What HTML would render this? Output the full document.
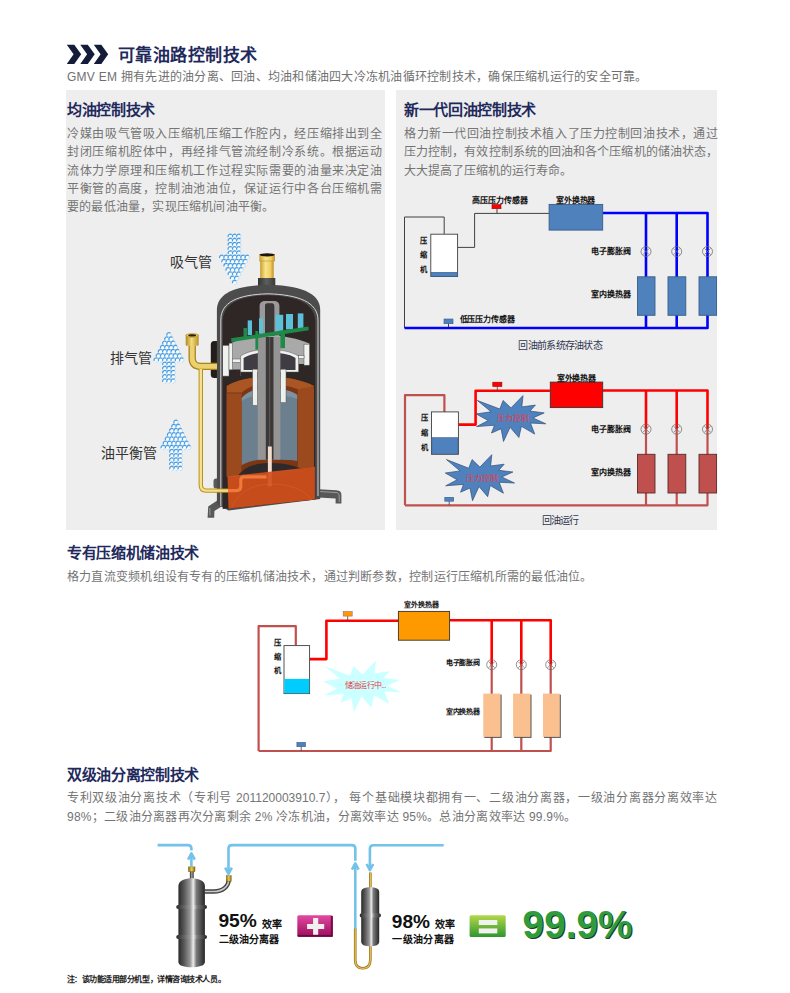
<!DOCTYPE html>
<html lang="zh-CN"><head><meta charset="utf-8">
<style>
html,body{margin:0;padding:0;background:#fff;}
body{width:790px;height:993px;position:relative;overflow:hidden;font-family:"Liberation Sans",sans-serif;}
.a{position:absolute;white-space:nowrap;}
.h2{font-size:15px;letter-spacing:-0.32px;font-weight:bold;color:#1f2a5c;line-height:18px;}
.p{font-size:12px;color:#6e6e6e;line-height:18.25px;letter-spacing:0.56px;}
.p2{font-size:12px;color:#747474;line-height:19px;letter-spacing:0.22px;}
.jp{position:absolute;font-size:12px;color:#747474;line-height:18.25px;}
.jp div{white-space:nowrap;}
.jp .j{text-align:justify;text-align-last:justify;white-space:normal;}
.panel{position:absolute;background:#eeeeee;}
svg{position:absolute;left:0;top:0;overflow:visible;}
.lb{font-size:8px;font-weight:bold;color:#000;}
</style></head><body>

<!-- header -->
<svg width="790" height="993" style="pointer-events:none">
  <g fill="#141c3a">
    <path d="M66.8 44.7 L74.3 44.7 L81.2 54.3 L74.3 63.9 L66.8 63.9 L73.6 54.3 Z"/>
    <path d="M80.3 44.7 L87.8 44.7 L94.7 54.3 L87.8 63.9 L80.3 63.9 L87.1 54.3 Z"/>
    <path d="M93.8 44.7 L101.3 44.7 L108.2 54.3 L101.3 63.9 L93.8 63.9 L100.6 54.3 Z"/>
  </g>
</svg>
<div class="a" style="left:117.5px;top:44.5px;font-size:17px;letter-spacing:0.5px;font-weight:bold;color:#1f2a5c;line-height:22px;">可靠油路控制技术</div>
<div class="a" style="left:67px;top:69px;font-size:12px;color:#707070;line-height:16px;letter-spacing:0.25px;">GMV EM 拥有先进的油分离、回油、均油和储油四大冷冻机油循环控制技术，确保压缩机运行的安全可靠。</div>

<div class="panel" style="left:66px;top:90px;width:319px;height:440px;"></div>
<div class="panel" style="left:396px;top:90px;width:321px;height:440px;"></div>

<div class="a h2" style="left:67px;top:100.5px;">均油控制技术</div>
<div class="jp" style="left:67px;top:125px;width:315px;">
<div class="j">冷媒由吸气管吸入压缩机压缩工作腔内，经压缩排出到全</div>
<div class="j">封闭压缩机腔体中，再经排气管流经制冷系统。根据运动</div>
<div class="j">流体力学原理和压缩机工作过程实际需要的油量来决定油</div>
<div class="j">平衡管的高度，控制油池油位，保证运行中各台压缩机需</div>
<div style="letter-spacing:0.2px">要的最低油量，实现压缩机间油平衡。</div>
</div>

<div class="a h2" style="left:404px;top:100.5px;">新一代回油控制技术</div>
<div class="jp" style="left:404px;top:125px;width:314px;">
<div class="j">格力新一代回油控制技术植入了压力控制回油技术，通过</div>
<div class="j">压力控制，有效控制系统的回油和各个压缩机的储油状态，</div>
<div>大大提高了压缩机的运行寿命。</div>
</div>

<div class="a h2" style="left:67px;top:544px;">专有压缩机储油技术</div>
<div class="a p2" style="left:67px;top:568px;">格力直流变频机组设有专有的压缩机储油技术，通过判断参数，控制运行压缩机所需的最低油位。</div>

<div class="a h2" style="left:67px;top:766px;">双级油分离控制技术</div>
<div class="jp" style="left:67px;top:789px;width:650px;line-height:19px;">
<div class="j">专利双级油分离技术（专利号 201120003910.7）， 每个基础模块都拥有一、二级油分离器，一级油分离器分离效率达</div>
<div style="letter-spacing:0.26px">98%；二级油分离器再次分离剩余 2% 冷冻机油，分离效率达 95%。总油分离效率达 99.9%。</div>
</div>

<!-- Compressor illustration -->
<svg width="790" height="993">
 <defs>
  <g id="bb"><circle r="2.15" fill="#f6fbff"/><path d="M-2,0.8 A2.15,2.15 0 0 1 1.5,-1.55" fill="none" stroke="#4a9de0" stroke-width="1.25"/><path d="M1.5,-1.55 A2.15,2.15 0 0 1 -0.4,2.1" fill="none" stroke="#a8d4f2" stroke-width="0.7"/></g>
  <linearGradient id="brassV" x1="0" y1="0" x2="1" y2="0">
   <stop offset="0" stop-color="#b08a1e"/><stop offset="0.45" stop-color="#f3dc7e"/><stop offset="1" stop-color="#b89228"/>
  </linearGradient>
  <linearGradient id="brassV2" x1="0" y1="0" x2="1" y2="0"><stop offset="0" stop-color="#c8a030"/><stop offset="0.4" stop-color="#f8e48c"/><stop offset="0.75" stop-color="#f0d060"/><stop offset="1" stop-color="#c09028"/></linearGradient>
  <linearGradient id="capDark" x1="0" y1="0" x2="1" y2="0">
   <stop offset="0" stop-color="#333"/><stop offset="0.5" stop-color="#5e5e5e"/><stop offset="1" stop-color="#3a3a3a"/>
  </linearGradient>
  <clipPath id="shellClip"><path d="M222.7,512 V322 C222.7,304 238,296 268,295.3 C298,296 315.3,304 315.3,322 V502 Z"/></clipPath>
 </defs>
 <g>
  <!-- suction brass tube -->
  <rect x="260.1" y="258" width="13.6" height="22" fill="url(#brassV2)"/>
  <rect x="259.3" y="254" width="15.6" height="7" fill="url(#brassV2)"/>
  <path d="M259.3,261 H274.9" stroke="#c09030" stroke-width="0.6"/>
  <ellipse cx="267.1" cy="254.8" rx="7.6" ry="1.6" fill="#1e140a"/>
  <path d="M258,278 H275.3 V287.5 C275.3,289.5 272,290.3 266.6,290.3 C261.2,290.3 258,289.5 258,287.5 Z" fill="url(#capDark)"/>
  <!-- left bumps -->
  <rect x="210.8" y="341" width="9" height="37" rx="3.5" fill="#231d1b"/>
  <rect x="213.5" y="478.5" width="6" height="10" rx="2.5" fill="#5a5a5a"/>
  <!-- feet -->
  <path d="M218,500 L208.2,506.5 L207.6,517.8 L214.2,517.8 L214.4,511 L224,505 Z" fill="#585858"/>
  <path d="M209.8,508 L210,515.5" stroke="#b8b8b8" stroke-width="0.7"/>
  <path d="M314,489 L336.5,490.3 C340,490.6 341.4,492 341.4,495 V503.4 H335.6 V498.5 L318,497.6 Z" fill="#585858"/>
  <path d="M319,491.5 L336,492.5 C338.5,492.7 339.2,494 339.2,496 V502" fill="none" stroke="#b8b8b8" stroke-width="0.7"/>
  <!-- shell -->
  <path d="M216.9,504 V310 C216.9,292 238,285.5 268,284.8 C298,285.5 320.2,292 320.2,310 V499 L228.5,510.5 Z" fill="#4c4c4c"/>
  <path d="M220.8,506 V320 C220.8,302 238,294.6 268,293.8 C298,294.6 318,302 318,320 V496" fill="none" stroke="#d4d4d4" stroke-width="1"/>
  <!-- interior dark -->
  <path d="M222.7,509 V322 C222.7,304 238,296 268,295.3 C298,296 315.3,304 315.3,322 V499.6 Z" fill="#2e2725"/>
  <g clip-path="url(#shellClip)">
   <!-- shaft top U -->
   <path d="M259.6,345 V306 C259.6,302.5 262,300.9 265,300.9 H274 C277,300.9 279.4,302.5 279.4,306 V345 H274.2 V306.5 C274.2,304.5 273.5,303.6 272,303.6 H267.3 C265.8,303.6 265.1,304.5 265.1,306.5 V345 Z" fill="#9a9a9a"/>
   <path d="M265.1,345 V306.5 C265.1,304.5 265.8,303.6 267.3,303.6 H272 C273.5,303.6 274.2,304.5 274.2,306.5 V345 Z" fill="#3c3838"/>
   <!-- cyan blocks -->
   <g fill="#5cc0d8">
    <rect x="247.7" y="320.4" width="4.3" height="14.6"/>
    <rect x="259" y="318.3" width="4" height="15.3"/>
    <rect x="275.6" y="314.8" width="7.6" height="16"/>
    <rect x="286" y="314" width="7" height="15.4"/>
    <rect x="297.8" y="313.4" width="5.6" height="14.6"/>
   </g>
   <!-- gray hat -->
   <path d="M229,344 C240,338.5 254,335.5 268,335.5 C284,335.5 298,338.5 309.4,343.5 V364 H298.5 V372 H240.6 V369.5 H229 Z" fill="#a9a9a9"/>
   <path d="M240.6,376 V356 C248,351 258,349.6 268,349.6 C280,349.6 290,351 298.5,356 V372 H240.6 Z" fill="#f0f2f0" stroke="#555" stroke-width="0.5"/>
   <path d="M243.6,376 V358 C250,354 258,352.6 268,352.6 C280,352.6 289,354 295.5,358 V370 H243.6 Z" fill="#3f3c44"/>
   <g fill="#f0f2f0" stroke="#555" stroke-width="0.5">
    <rect x="222.7" y="345.4" width="6.3" height="30.7"/>
    <rect x="229" y="343.2" width="3.4" height="26.6"/>
    <rect x="304" y="344.2" width="5.4" height="21"/>
    <rect x="232.4" y="359" width="8.2" height="3.4"/>
    <rect x="298.5" y="355.6" width="5.5" height="3"/>
   </g>
   <!-- motor stator -->
   <path d="M226.8,476 V386 C236,380 252,376.8 268,376.8 C286,376.8 302,380 313.9,386 V467 Z" fill="#9b4a1e"/>
   <path d="M226.8,386 C236,380 252,376.8 268,376.8 C286,376.8 302,380 313.9,386 L297.9,389.4 C290,386 280,384.5 268,384.5 C256,384.5 248,386.5 241.5,393 L226.8,392.9 Z" fill="#aa5524"/>
   <path d="M241.5,476 V393 C248,386.5 256,384.5 268,384.5 C280,384.5 290,386 297.9,389.4 V467" fill="#7c3614"/>
   <rect x="226.6" y="392.9" width="14.9" height="84" fill="#9b4a1e"/>
   <path d="M226.8,392.9 H241.5" stroke="#6a2e10" stroke-width="0.6"/>
   <rect x="297.9" y="389.4" width="16" height="78" fill="#9b4a1e"/>
   <!-- rotor -->
   <path d="M241.8,465.3 V398 C248,391 256,388.7 268,388.7 C282,388.7 292,390.5 297.2,395 V461 Z" fill="#6b7f8f"/>
   <path d="M241.8,398 C248,391 256,388.7 268,388.7 C282,388.7 292,390.5 297.2,395 L297.2,399 C290,396 280,395 268,395 C256,395 248,396.5 241.8,401 Z" fill="#7f92a0"/>
   <!-- lower dark dome under motor -->
   <path d="M241.5,476 V465.3 C250,460.5 258,459.5 268,459.5 C282,459.5 292,460 297.9,461 V467 Z" fill="#7c3614"/>
   <path d="M236,478 C244,466 256,463 270,463 C286,463 298,466 306,472 Z" fill="#2e2a2c"/>
   <!-- shaft -->
   <rect x="257.8" y="337" width="22.6" height="122.7" fill="#959595"/>
   <rect x="265.8" y="337" width="7.7" height="122.7" fill="#3c3838"/>
   <rect x="269" y="337" width="1.2" height="122.7" fill="#5a5656"/>
   <!-- green bar + verticals -->
   <g fill="#1f8a48">
    <rect x="243.5" y="328" width="3.5" height="9"/>
    <rect x="255.4" y="331" width="2.8" height="18.6"/>
    <rect x="280.4" y="334" width="4.6" height="14.2"/>
    <path d="M231,338.3 L308.3,326.4 L308.8,330.2 L231.5,342.1 Z"/>
   </g>
   <!-- white bearing verticals -->
   <g fill="#eef0ee" stroke="#555" stroke-width="0.5">
    <rect x="252.6" y="369.2" width="4.9" height="36.2"/>
    <rect x="280.5" y="369.2" width="5.5" height="33.4"/>
   </g>
   <!-- pickup rod -->
   <rect x="267.9" y="446.5" width="3.9" height="40" fill="#f2dccc"/>
   <!-- oil -->
   <path d="M227.5,476.3 L314.9,466.8 L314.9,499.6 L228.5,508.5 Z" fill="#d2501c" fill-opacity="0.93"/>
   <path d="M232,506 C240,490 256,484 272,484 C290,484 304,490 312,500" fill="none" stroke="#e86a34" stroke-opacity="0.5" stroke-width="0.8"/>
   <!-- oil tube inside (orange) -->
   <path d="M227,490.6 H236.5 C239.5,490.6 240.8,489 240.8,486 V480 C240.8,477.8 242,476.8 244,476.8 H266.5" fill="none" stroke="#f07838" stroke-width="3.2"/>
  </g>
  <!-- discharge elbow brass -->
  <path d="M192.2,345.5 V358 C192.2,364 195.5,366.4 201.5,366.4 H217" fill="none" stroke="#a8841c" stroke-width="7.4"/>
  <path d="M192.2,345.5 V358 C192.2,364 195.5,366.4 201.5,366.4 H217" fill="none" stroke="#ecd170" stroke-width="4.8"/>
  <rect x="185.7" y="334.2" width="13" height="11.6" rx="1" fill="url(#brassV)"/>
  <ellipse cx="192.2" cy="335.4" rx="6.2" ry="1.9" fill="#e8c860" stroke="#a8821a" stroke-width="0.5"/>
  <ellipse cx="192.2" cy="335.4" rx="3.9" ry="1.1" fill="#2a1e0a"/>
  <!-- oil balance tube brass -->
  <path d="M200.8,369 V485 C200.8,488.8 202.6,490.6 206,490.6 H228" fill="none" stroke="#b8921e" stroke-width="4.4"/>
  <path d="M200.8,369 V485 C200.8,488.8 202.6,490.6 206,490.6 H228" fill="none" stroke="#f6e08e" stroke-width="2.4"/>
  <!-- bubbles -->
  <g>
<use href="#bb" x="230.3" y="236.3"/>
<use href="#bb" x="234.6" y="236.3"/>
<use href="#bb" x="238.8" y="236.3"/>
<use href="#bb" x="230.3" y="240.5"/>
<use href="#bb" x="234.6" y="240.5"/>
<use href="#bb" x="238.8" y="240.5"/>
<use href="#bb" x="230.3" y="244.7"/>
<use href="#bb" x="234.6" y="244.7"/>
<use href="#bb" x="238.8" y="244.7"/>
<use href="#bb" x="230.3" y="248.9"/>
<use href="#bb" x="234.6" y="248.9"/>
<use href="#bb" x="238.8" y="248.9"/>
<use href="#bb" x="230.3" y="253.1"/>
<use href="#bb" x="234.6" y="253.1"/>
<use href="#bb" x="238.8" y="253.1"/>
<use href="#bb" x="221.8" y="257.3"/>
<use href="#bb" x="226.1" y="257.3"/>
<use href="#bb" x="230.3" y="257.3"/>
<use href="#bb" x="234.6" y="257.3"/>
<use href="#bb" x="238.8" y="257.3"/>
<use href="#bb" x="243.1" y="257.3"/>
<use href="#bb" x="247.3" y="257.3"/>
<use href="#bb" x="224.0" y="261.5"/>
<use href="#bb" x="228.2" y="261.5"/>
<use href="#bb" x="232.5" y="261.5"/>
<use href="#bb" x="236.7" y="261.5"/>
<use href="#bb" x="241.0" y="261.5"/>
<use href="#bb" x="245.2" y="261.5"/>
<use href="#bb" x="226.1" y="265.7"/>
<use href="#bb" x="230.3" y="265.7"/>
<use href="#bb" x="234.6" y="265.7"/>
<use href="#bb" x="238.8" y="265.7"/>
<use href="#bb" x="243.1" y="265.7"/>
<use href="#bb" x="228.2" y="269.9"/>
<use href="#bb" x="232.5" y="269.9"/>
<use href="#bb" x="236.7" y="269.9"/>
<use href="#bb" x="241.0" y="269.9"/>
<use href="#bb" x="230.3" y="274.1"/>
<use href="#bb" x="234.6" y="274.1"/>
<use href="#bb" x="238.8" y="274.1"/>
<use href="#bb" x="232.5" y="278.3"/>
<use href="#bb" x="236.7" y="278.3"/>
<use href="#bb" x="234.6" y="282.5"/>
<use href="#bb" x="169.0" y="334.9"/>
<use href="#bb" x="166.9" y="339.1"/>
<use href="#bb" x="171.1" y="339.1"/>
<use href="#bb" x="164.8" y="343.3"/>
<use href="#bb" x="169.0" y="343.3"/>
<use href="#bb" x="173.2" y="343.3"/>
<use href="#bb" x="162.6" y="347.5"/>
<use href="#bb" x="166.9" y="347.5"/>
<use href="#bb" x="171.1" y="347.5"/>
<use href="#bb" x="175.4" y="347.5"/>
<use href="#bb" x="160.5" y="351.7"/>
<use href="#bb" x="164.8" y="351.7"/>
<use href="#bb" x="169.0" y="351.7"/>
<use href="#bb" x="173.2" y="351.7"/>
<use href="#bb" x="177.5" y="351.7"/>
<use href="#bb" x="158.4" y="355.9"/>
<use href="#bb" x="162.6" y="355.9"/>
<use href="#bb" x="166.9" y="355.9"/>
<use href="#bb" x="171.1" y="355.9"/>
<use href="#bb" x="175.4" y="355.9"/>
<use href="#bb" x="179.6" y="355.9"/>
<use href="#bb" x="156.2" y="360.1"/>
<use href="#bb" x="160.5" y="360.1"/>
<use href="#bb" x="164.8" y="360.1"/>
<use href="#bb" x="169.0" y="360.1"/>
<use href="#bb" x="173.2" y="360.1"/>
<use href="#bb" x="177.5" y="360.1"/>
<use href="#bb" x="181.8" y="360.1"/>
<use href="#bb" x="164.8" y="364.3"/>
<use href="#bb" x="169.0" y="364.3"/>
<use href="#bb" x="173.2" y="364.3"/>
<use href="#bb" x="164.8" y="368.5"/>
<use href="#bb" x="169.0" y="368.5"/>
<use href="#bb" x="173.2" y="368.5"/>
<use href="#bb" x="164.8" y="372.7"/>
<use href="#bb" x="169.0" y="372.7"/>
<use href="#bb" x="173.2" y="372.7"/>
<use href="#bb" x="164.8" y="376.9"/>
<use href="#bb" x="169.0" y="376.9"/>
<use href="#bb" x="173.2" y="376.9"/>
<use href="#bb" x="164.8" y="381.1"/>
<use href="#bb" x="169.0" y="381.1"/>
<use href="#bb" x="173.2" y="381.1"/>
<use href="#bb" x="176.0" y="422.3"/>
<use href="#bb" x="173.9" y="426.5"/>
<use href="#bb" x="178.1" y="426.5"/>
<use href="#bb" x="171.8" y="430.7"/>
<use href="#bb" x="176.0" y="430.7"/>
<use href="#bb" x="180.2" y="430.7"/>
<use href="#bb" x="169.6" y="434.9"/>
<use href="#bb" x="173.9" y="434.9"/>
<use href="#bb" x="178.1" y="434.9"/>
<use href="#bb" x="182.4" y="434.9"/>
<use href="#bb" x="167.5" y="439.1"/>
<use href="#bb" x="171.8" y="439.1"/>
<use href="#bb" x="176.0" y="439.1"/>
<use href="#bb" x="180.2" y="439.1"/>
<use href="#bb" x="184.5" y="439.1"/>
<use href="#bb" x="165.4" y="443.3"/>
<use href="#bb" x="169.6" y="443.3"/>
<use href="#bb" x="173.9" y="443.3"/>
<use href="#bb" x="178.1" y="443.3"/>
<use href="#bb" x="182.4" y="443.3"/>
<use href="#bb" x="186.6" y="443.3"/>
<use href="#bb" x="163.2" y="447.5"/>
<use href="#bb" x="167.5" y="447.5"/>
<use href="#bb" x="171.8" y="447.5"/>
<use href="#bb" x="176.0" y="447.5"/>
<use href="#bb" x="180.2" y="447.5"/>
<use href="#bb" x="184.5" y="447.5"/>
<use href="#bb" x="188.8" y="447.5"/>
<use href="#bb" x="171.8" y="451.7"/>
<use href="#bb" x="176.0" y="451.7"/>
<use href="#bb" x="180.2" y="451.7"/>
<use href="#bb" x="171.8" y="455.9"/>
<use href="#bb" x="176.0" y="455.9"/>
<use href="#bb" x="180.2" y="455.9"/>
<use href="#bb" x="171.8" y="460.1"/>
<use href="#bb" x="176.0" y="460.1"/>
<use href="#bb" x="180.2" y="460.1"/>
<use href="#bb" x="171.8" y="464.3"/>
<use href="#bb" x="176.0" y="464.3"/>
<use href="#bb" x="180.2" y="464.3"/>
<use href="#bb" x="171.8" y="468.5"/>
<use href="#bb" x="176.0" y="468.5"/>
<use href="#bb" x="180.2" y="468.5"/>
  </g>
  <g font-family="Liberation Sans, sans-serif" font-size="14" fill="#333">
   <text x="170" y="267">吸气管</text>
   <text x="109.5" y="362.5">排气管</text>
   <text x="101" y="457.5">油平衡管</text>
  </g>
 </g>
</svg>

<!-- Diagram 1: blue -->
<svg width="790" height="993">
 <g font-family="Liberation Sans, sans-serif" font-size="7.3" font-weight="bold" fill="#111">
  <g fill="none" stroke="#404040" stroke-width="1">
    <path d="M404.5,328 V217 H444.2 V234.2"/>
    <path d="M457.6,247.4 H474.6 V213.4 H549.5"/>
    <path d="M497,208.7 V213.4"/>
    <path d="M448.5,323.5 V328"/>
  </g>
  <g fill="none" stroke="#0000ff" stroke-width="2.6" stroke-linejoin="round">
    <path d="M602.7,213 H707.5 V328 H404.5"/>
    <path d="M646,213 V328 M676.7,213 V328"/>
  </g>
  <rect x="430.8" y="234.2" width="26.8" height="42.3" fill="#fff" stroke="#404040" stroke-width="0.9"/>
  <rect x="431.2" y="272.3" width="26" height="4" fill="#4f81bd" stroke="#385d8a" stroke-width="0.6"/>
  <rect x="492" y="204.6" width="9" height="4.1" fill="#ff0000" stroke="#900" stroke-width="0.6"/>
  <rect x="549.1" y="204.4" width="53.6" height="25.7" fill="#4f81bd" stroke="#385d8a" stroke-width="0.9"/>
  <g fill="#4f81bd" stroke="#385d8a" stroke-width="0.9">
    <rect x="637.5" y="276.8" width="17.5" height="38.5"/>
    <rect x="668" y="276.8" width="17.8" height="38.5"/>
    <rect x="699" y="276.8" width="17.6" height="38.5"/>
  </g>
  <rect x="444" y="319" width="9" height="4.7" fill="#4f81bd" stroke="#385d8a" stroke-width="0.6"/>
  <g fill="none" stroke="#6a6a6a" stroke-width="0.75">
    <circle cx="646" cy="251.5" r="5"/><path d="M643,248.5 L649,254.5 M649,248.5 L643,254.5"/>
    <circle cx="676.7" cy="251.5" r="5"/><path d="M673.7,248.5 L679.7,254.5 M679.7,248.5 L673.7,254.5"/>
    <circle cx="707.5" cy="251.5" r="5"/><path d="M704.5,248.5 L710.5,254.5 M710.5,248.5 L704.5,254.5"/>
  </g>
  <text x="472.3" y="203" font-size="8" textLength="56" lengthAdjust="spacing">高压压力传感器</text>
  <text x="555.8" y="202.8" font-size="8" textLength="39.6" lengthAdjust="spacing">室外换热器</text>
  <text x="591.1" y="254" font-size="8" textLength="39.6" lengthAdjust="spacing">电子膨胀阀</text>
  <text x="591.1" y="296.6" font-size="8" textLength="39.6" lengthAdjust="spacing">室内换热器</text>
  <text x="459.6" y="322" font-size="8" textLength="55" lengthAdjust="spacing">低压压力传感器</text>
  <text x="420" y="242.5">压</text>
  <text x="420" y="257.4">缩</text>
  <text x="420" y="272">机</text>
  <text x="518.2" y="349.2" font-size="10" font-weight="normal" fill="#30364f" textLength="84.6" lengthAdjust="spacing">回油前系统存油状态</text>
 </g>
</svg>

<!-- Diagram 2: red -->
<svg width="790" height="993">
 <g font-family="Liberation Sans, sans-serif" font-size="7.3" font-weight="bold" fill="#111">
  <g fill="none" stroke="#c0504d" stroke-width="2.2" stroke-linejoin="round">
    <path d="M405,505.3 V395.1 H444.4 V411.9"/>
    <path d="M405,505.3 H707.5 V429"/>
    <path d="M646,429 V505.3 M676.7,429 V505.3"/>
  </g>
  <g fill="none" stroke="#ff0000" stroke-width="2.6" stroke-linejoin="round">
    <path d="M458.4,424.6 H475.6 V390.8 H549.9"/>
    <path d="M602.7,390.5 H707.5 V429"/>
    <path d="M646,390.5 V429 M676.7,390.5 V429"/>
  </g>
  <path d="M497.3,386.5 V390.8 M449.2,501 V505" stroke="#404040" stroke-width="0.8"/>
  <rect x="431.5" y="411.9" width="26.9" height="42.4" fill="#fff" stroke="#404040" stroke-width="0.9"/>
  <rect x="431.9" y="437.7" width="26.1" height="16.2" fill="#4f81bd" stroke="#385d8a" stroke-width="0.6"/>
  <rect x="492.8" y="382.2" width="9.1" height="4.3" fill="#ff0000" stroke="#900" stroke-width="0.6"/>
  <rect x="550.3" y="382.1" width="52.4" height="25.5" fill="#ff0000" stroke="#333" stroke-width="0.9"/>
  <g fill="#c0504d" stroke="#5a2a28" stroke-width="0.9">
    <rect x="637.5" y="454.3" width="17.5" height="38.7"/>
    <rect x="668" y="454.3" width="17.8" height="38.7"/>
    <rect x="699" y="454.3" width="17.6" height="38.7"/>
  </g>
  <rect x="444.8" y="497.3" width="8.9" height="3.9" fill="#4f81bd" stroke="#385d8a" stroke-width="0.6"/>
  <g fill="none" stroke="#6a6a6a" stroke-width="0.75">
    <circle cx="646" cy="429.2" r="5"/><path d="M643,426.2 L649,432.2 M649,426.2 L643,432.2"/>
    <circle cx="676.7" cy="429.2" r="5"/><path d="M673.7,426.2 L679.7,432.2 M679.7,426.2 L673.7,432.2"/>
    <circle cx="707.5" cy="429.2" r="5"/><path d="M704.5,426.2 L710.5,432.2 M710.5,426.2 L704.5,432.2"/>
  </g>
  <path fill="#4f81bd" stroke="#2f4f7a" stroke-width="0.7" d="M511.0,407.9L523.0,395.6L521.8,406.9L535.4,405.1L530.0,411.1L544.2,412.9L532.9,417.9L545.8,423.8L530.5,423.1L534.7,434.1L521.4,426.3L518.9,437.5L510.1,427.3L503.5,441.5L501.1,428.8L491.5,433.0L494.5,425.2L476.6,426.6L488.2,420.6L476.2,413.9L491.1,411.8L477.4,400.5L499.8,409.0L503.1,400.5Z"/>
  <path fill="#4f81bd" stroke="#2f4f7a" stroke-width="0.7" d="M479.9,467.1L491.8,454.7L490.6,466.0L504.2,464.2L498.8,470.3L512.9,472.0L501.7,477.0L514.5,483.0L499.2,482.3L503.4,493.2L490.2,485.5L487.7,496.7L479.0,486.5L472.5,500.7L470.0,488.0L460.6,492.2L463.5,484.4L445.7,485.8L457.2,479.8L445.3,473.0L460.1,470.9L446.5,459.6L468.7,468.2L472.1,459.6Z"/>
  <text x="497" y="420.6" font-size="8" font-weight="normal" fill="#e23c4c" textLength="31.8" lengthAdjust="spacing">压力控制</text>
  <text x="466.3" y="480.5" font-size="8" font-weight="normal" fill="#e23c4c" textLength="31.8" lengthAdjust="spacing">压力控制</text>
  <text x="556.8" y="380.6" font-size="8" textLength="39" lengthAdjust="spacing">室外换热器</text>
  <text x="591.1" y="431.6" font-size="8" textLength="39.6" lengthAdjust="spacing">电子膨胀阀</text>
  <text x="591.1" y="474.6" font-size="8" textLength="39.6" lengthAdjust="spacing">室内换热器</text>
  <text x="420.7" y="419.8">压</text>
  <text x="420.7" y="434.8">缩</text>
  <text x="420.7" y="449.8">机</text>
  <text x="542.1" y="523.5" font-size="10" font-weight="normal" fill="#30364f" textLength="37" lengthAdjust="spacing">回油运行</text>
 </g>
</svg>

<!-- Diagram 3: orange -->
<svg width="790" height="993">
 <g font-family="Liberation Sans, sans-serif" font-size="7.3" font-weight="bold" fill="#111">
  <g fill="none" stroke="#c0504d" stroke-width="2.2" stroke-linejoin="round">
    <path d="M258.6,751 V626.2 H295.8 V645.6"/>
    <path d="M258.6,751 H550.7 V664.7"/>
    <path d="M491.7,664.7 V751 M521.3,664.7 V751"/>
  </g>
  <g fill="none" stroke="#ff0000" stroke-width="2.6" stroke-linejoin="round">
    <path d="M309.6,659.1 H326.4 V620.8 H398.5"/>
    <path d="M449.6,620.3 H550.7 V664.7"/>
    <path d="M491.7,620.3 V664.7 M521.3,620.3 V664.7"/>
  </g>
  <path d="M347.7,616.1 V620.8 M301.2,746.7 V751" stroke="#404040" stroke-width="0.8"/>
  <rect x="284" y="645.6" width="25.6" height="48" fill="#fff" stroke="#404040" stroke-width="0.9"/>
  <rect x="284.4" y="678.9" width="24.8" height="14.4" fill="#00ccff"/>
  <rect x="343.2" y="611.6" width="9" height="4.5" fill="#ff9900" stroke="#a66" stroke-width="0.6"/>
  <rect x="398.4" y="611.4" width="51.2" height="28.8" fill="#ff9900" stroke="#333" stroke-width="0.9"/>
  <g fill="#555">
    <rect x="484.3" y="694.6" width="17.3" height="43.3"/>
    <rect x="514.1" y="694.6" width="17.4" height="43.3"/>
    <rect x="544" y="694.6" width="16.8" height="43.3"/>
  </g>
  <g fill="#fac090">
    <rect x="483.3" y="693.6" width="17.3" height="43.3"/>
    <rect x="513.1" y="693.6" width="17.4" height="43.3"/>
    <rect x="543" y="693.6" width="16.8" height="43.3"/>
  </g>
  <rect x="296.9" y="742.4" width="8.6" height="4.3" fill="#4f81bd" stroke="#385d8a" stroke-width="0.6"/>
  <g fill="none" stroke="#6a6a6a" stroke-width="0.75">
    <circle cx="491.7" cy="664.7" r="5"/><path d="M488.7,661.7 L494.7,667.7 M494.7,661.7 L488.7,667.7"/>
    <circle cx="521.3" cy="664.7" r="5"/><path d="M518.3,661.7 L524.3,667.7 M524.3,661.7 L518.3,667.7"/>
    <circle cx="550.7" cy="664.7" r="5"/><path d="M547.7,661.7 L553.7,667.7 M553.7,661.7 L547.7,667.7"/>
  </g>
  <path fill="#ccffff" d="M362.4,674.5L376.0,660.6L374.6,673.3L390.0,671.3L383.9,678.1L399.9,680.1L387.2,685.7L401.7,692.4L384.4,691.6L389.1,703.9L374.2,695.2L371.3,707.8L361.5,696.3L354.0,712.3L351.2,698.0L340.5,702.8L343.8,694.0L323.7,695.5L336.7,688.8L323.2,681.2L340.0,678.8L324.5,666.1L349.8,675.7L353.6,666.1Z"/>
  <text x="344.6" y="687.8" font-size="8" font-weight="normal" fill="#e23c4c" textLength="42" lengthAdjust="spacing">储油运行中...</text>
  <text x="404.2" y="607.2" font-size="7" textLength="34.6" lengthAdjust="spacing">室外换热器</text>
  <text x="445.6" y="665.4" font-size="7" textLength="34.6" lengthAdjust="spacing">电子膨胀阀</text>
  <text x="445.6" y="713.8" font-size="7" textLength="34.6" lengthAdjust="spacing">室内换热器</text>
  <text x="273.7" y="644.5">压</text>
  <text x="273.7" y="658.5">缩</text>
  <text x="273.7" y="672.5">机</text>
 </g>
</svg>

<!-- Bottom: oil separators -->
<svg width="790" height="993">
 <defs>
  <linearGradient id="steel" x1="0" y1="0" x2="1" y2="0">
   <stop offset="0" stop-color="#2a2a2a"/><stop offset="0.22" stop-color="#5a5a5a"/><stop offset="0.45" stop-color="#9a9a9a"/><stop offset="0.56" stop-color="#ececec"/><stop offset="0.68" stop-color="#7a7a7a"/><stop offset="1" stop-color="#262626"/>
  </linearGradient>
  <linearGradient id="steelH" x1="0" y1="0" x2="0" y2="1">
   <stop offset="0" stop-color="#555"/><stop offset="0.5" stop-color="#e8e8e8"/><stop offset="1" stop-color="#555"/>
  </linearGradient>
  <linearGradient id="capG" x1="0" y1="0" x2="1" y2="0">
   <stop offset="0" stop-color="#8a6a10"/><stop offset="0.5" stop-color="#f0d040"/><stop offset="1" stop-color="#8a6a10"/>
  </linearGradient>
  <linearGradient id="pinkG" x1="0" y1="0" x2="0" y2="1">
   <stop offset="0" stop-color="#e24aa0"/><stop offset="1" stop-color="#9c0c5c"/>
  </linearGradient>
  <linearGradient id="greenG" x1="0" y1="0" x2="0" y2="1">
   <stop offset="0" stop-color="#b4d84a"/><stop offset="1" stop-color="#2f9530"/>
  </linearGradient>
 </defs>
 <!-- blue pipes -->
 <g fill="none" stroke="#72c2ea" stroke-width="2.6" stroke-linejoin="round">
  <path d="M157.6,845.1 H187.9 Q191.4,845.1 191.4,848.6 V850.6"/>
  <path d="M191.4,856 V866.5"/>
  <path d="M188.1,859.6 L191.4,853.4 L194.7,859.6"/>
  <path d="M228.5,873.4 V848.6 Q228.5,845.1 232,845.1 H351.8 Q355.3,845.1 355.3,848.6 V860.8"/>
  <path d="M225.2,867.6 L228.5,873.8 L231.8,867.6"/>
  <path d="M355.3,866 V929"/>
  <path d="M352,869.6 L355.3,863.4 L358.6,869.6"/>
  <path d="M443.7,845.2 H373.4 Q369.9,845.2 369.9,848.7 V869.8"/>
  <path d="M366.6,864 L369.9,870.2 L373.2,864"/>
 </g>
 <!-- tank 1 -->
 <path d="M204.9,891.5 H214 C222,891.5 228.8,887 228.8,879" fill="none" stroke="#444" stroke-width="4.4"/>
 <path d="M204.9,891.5 H214 C222,891.5 228.8,887 228.8,879" fill="none" stroke="#c8c8c8" stroke-width="1.6"/>
 <rect x="189.9" y="871" width="3.8" height="8" fill="url(#steel)"/>
 <rect x="188.4" y="866.9" width="6.6" height="4.8" fill="url(#capG)" stroke="#6a5010" stroke-width="0.4"/>
 <rect x="226.4" y="875.8" width="4.8" height="5.4" fill="url(#capG)" stroke="#6a5010" stroke-width="0.4"/>
 <path d="M178.4,886 C178.4,880 186,878.2 191.6,878.2 C197.3,878.2 204.9,880 204.9,886 V962 C204.9,966 198,967.2 191.6,967.2 C185,967.2 178.4,966 178.4,962 Z" fill="url(#steel)"/>
 <rect x="176.2" y="905" width="30.8" height="4" rx="2" fill="url(#steel)"/>
 <rect x="176.2" y="935" width="30.8" height="4" rx="2" fill="url(#steel)"/>
 <!-- tank 2 + brass -->
 <path d="M370.3,872.4 V889 M370.3,945 V960 Q370.3,968.3 362.8,968.3 Q355.2,968.3 355.2,960 V928.8" fill="none" stroke="#8a6a14" stroke-width="2.6"/>
 <path d="M370.3,872.4 V889 M370.3,945 V960 Q370.3,968.3 362.8,968.3 Q355.2,968.3 355.2,960 V928.8" fill="none" stroke="#e8c050" stroke-width="1.3"/>
 <path d="M361.2,892 C361.2,888 366,887.2 370.2,887.2 C374.4,887.2 379.2,888 379.2,892 V941.6 C379.2,945.6 374.4,946.4 370.2,946.4 C366,946.4 361.2,945.6 361.2,941.6 Z" fill="url(#steel)"/>
 <rect x="359.7" y="913.3" width="21.2" height="4.2" rx="2" fill="url(#steel)"/>
 <!-- plus / equals -->
 <rect x="297.3" y="915.2" width="35.5" height="21.6" rx="1.5" fill="url(#pinkG)"/>
 <rect x="330.8" y="916" width="2" height="20.8" fill="#7a0a48"/><rect x="297.8" y="935" width="34" height="1.8" fill="#6a0840"/><path d="M313.1,918 H318.2 V924 H324.2 V929 H318.2 V934.7 H313.1 V929 H307.1 V924 H313.1 Z" fill="#f0f0f0"/>
 <rect x="469.6" y="915.3" width="36.1" height="21.6" rx="1.5" fill="url(#greenG)"/>
 <rect x="478.8" y="920" width="18.5" height="5" fill="#f2f2ee"/>
 <rect x="478.8" y="928.4" width="18.5" height="5" fill="#f2f2ee"/>
 <!-- texts -->
 <g font-family="Liberation Sans, sans-serif" font-weight="bold" fill="#111">
  <text x="218.4" y="927.3" font-size="18" textLength="38.4" lengthAdjust="spacingAndGlyphs">95%</text>
  <text x="261.6" y="928.2" font-size="10">效率</text>
  <text x="219.1" y="942.6" font-size="10">二级油分离器</text>
  <text x="391.8" y="927.5" font-size="18" textLength="38.2" lengthAdjust="spacingAndGlyphs">98%</text>
  <text x="434.7" y="928.4" font-size="10">效率</text>
  <text x="392.3" y="942.5" font-size="10" textLength="61.6" lengthAdjust="spacing">一级油分离器</text>
  <text x="523.6" y="939.2" font-size="38" fill="#1e3a22" textLength="110" lengthAdjust="spacingAndGlyphs">99.9%</text>
  <text x="522.6" y="938.2" font-size="38" fill="#2e9c3c" textLength="110" lengthAdjust="spacingAndGlyphs">99.9%</text>
 </g>
</svg>

<div class="a" style="left:66.5px;top:973.5px;font-size:8px;font-weight:bold;color:#222;line-height:12px;letter-spacing:-0.45px;">注：该功能适用部分机型，详情咨询技术人员。</div>

</body></html>
